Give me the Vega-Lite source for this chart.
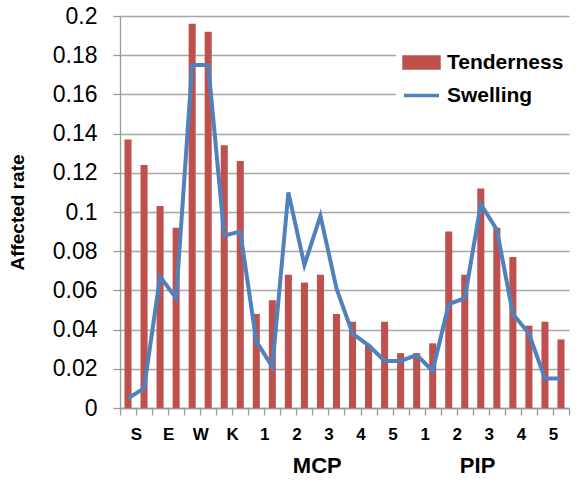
{
  "$schema": "https://vega.github.io/schema/vega-lite/v6.json",
  "width": 449,
  "height": 392,
  "autosize": {"type": "none"},
  "padding": {"left": 120, "top": 16, "right": 7, "bottom": 72},
  "background": "white",
  "config": {
    "view": {"stroke": null},
    "font": "Liberation Sans"
  },
  "data": {
    "values": [
      {"idx": 1, "Tenderness": 0.137, "Swelling": 0.005},
      {"idx": 2, "Tenderness": 0.124, "Swelling": 0.010},
      {"idx": 3, "Tenderness": 0.103, "Swelling": 0.067},
      {"idx": 4, "Tenderness": 0.092, "Swelling": 0.056},
      {"idx": 5, "Tenderness": 0.196, "Swelling": 0.175},
      {"idx": 6, "Tenderness": 0.192, "Swelling": 0.175},
      {"idx": 7, "Tenderness": 0.134, "Swelling": 0.088},
      {"idx": 8, "Tenderness": 0.126, "Swelling": 0.090},
      {"idx": 9, "Tenderness": 0.048, "Swelling": 0.034},
      {"idx": 10, "Tenderness": 0.055, "Swelling": 0.021},
      {"idx": 11, "Tenderness": 0.068, "Swelling": 0.110},
      {"idx": 12, "Tenderness": 0.064, "Swelling": 0.073},
      {"idx": 13, "Tenderness": 0.068, "Swelling": 0.098},
      {"idx": 14, "Tenderness": 0.048, "Swelling": 0.061},
      {"idx": 15, "Tenderness": 0.044, "Swelling": 0.038},
      {"idx": 16, "Tenderness": 0.032, "Swelling": 0.032},
      {"idx": 17, "Tenderness": 0.044, "Swelling": 0.024},
      {"idx": 18, "Tenderness": 0.028, "Swelling": 0.024},
      {"idx": 19, "Tenderness": 0.028, "Swelling": 0.027},
      {"idx": 20, "Tenderness": 0.033, "Swelling": 0.019},
      {"idx": 21, "Tenderness": 0.090, "Swelling": 0.053},
      {"idx": 22, "Tenderness": 0.068, "Swelling": 0.056},
      {"idx": 23, "Tenderness": 0.112, "Swelling": 0.104},
      {"idx": 24, "Tenderness": 0.092, "Swelling": 0.091},
      {"idx": 25, "Tenderness": 0.077, "Swelling": 0.048},
      {"idx": 26, "Tenderness": 0.042, "Swelling": 0.038},
      {"idx": 27, "Tenderness": 0.044, "Swelling": 0.015},
      {"idx": 28, "Tenderness": 0.035, "Swelling": 0.015}
    ]
  },
  "encoding": {
    "x": {
      "field": "idx",
      "type": "ordinal",
      "scale": {"type": "band", "paddingInner": 0, "paddingOuter": 0},
      "axis": {
        "title": null,
        "grid": false,
        "labelAngle": 0,
        "labelFont": "Liberation Sans",
        "labelFontSize": 17,
        "labelFontWeight": "bold",
        "labelColor": "black",
        "labelPadding": 11,
        "labelOffset": 8,
        "labelBaseline": "top",
        "labelOverlap": false,
        "tickBand": "extent",
        "tickSize": 7,
        "tickColor": "#999999",
        "tickWidth": 1.3,
        "domainColor": "#999999",
        "domainWidth": 1.3,
        "labelExpr": "['S','','E','','W','','K','','1','','2','','3','','4','','5','','1','','2','','3','','4','','5',''][datum.value - 1]"
      }
    }
  },
  "layer": [
    {
      "mark": {"type": "bar", "width": {"band": 0.44}},
      "encoding": {
        "y": {
          "field": "Tenderness",
          "type": "quantitative",
          "scale": {"domain": [0, 0.2], "nice": false, "zero": true},
          "axis": {
            "title": "Affected rate",
            "titleFont": "Liberation Sans",
            "titleFontSize": 19,
            "titleFontWeight": "bold",
            "titleColor": "black",
            "titlePadding": 25,
            "values": [0, 0.02, 0.04, 0.06, 0.08, 0.1, 0.12, 0.14, 0.16, 0.18, 0.2],
            "format": "~g",
            "labelOverlap": false,
            "labelFont": "Liberation Sans",
            "labelFontSize": 23,
            "labelColor": "black",
            "labelPadding": 16,
            "tickSize": 7,
            "tickColor": "#999999",
            "tickWidth": 1.3,
            "domainColor": "#999999",
            "domainWidth": 1.3,
            "grid": true,
            "gridColor": "#A6A6A6",
            "gridWidth": 1.3
          }
        },
        "color": {
          "datum": "Tenderness",
          "scale": {"domain": ["Tenderness", "Swelling"], "range": ["#C0504D", "#4F81BD"]},
          "legend": {
            "orient": "none",
            "legendX": 276,
            "legendY": 21,
            "padding": 6,
            "fillColor": "white",
            "title": null,
            "labelFont": "Liberation Sans",
            "labelFontSize": 21,
            "labelFontWeight": "bold",
            "labelColor": "black",
            "labelOffset": 6,
            "symbolSize": 1225,
            "rowPadding": 1,
            "encode": {
              "symbols": {
                "update": {
                  "shape": {"signal": "datum.value == 'Tenderness' ? 'M-1,-0.31H1V0.31H-1Z' : 'M-1,0H1'"},
                  "fill": {"signal": "datum.value == 'Tenderness' ? '#C0504D' : 'transparent'"},
                  "stroke": {"signal": "datum.value == 'Tenderness' ? 'transparent' : '#4F81BD'"},
                  "strokeWidth": {"value": 3.5},
                  "opacity": {"value": 1}
                }
              }
            }
          }
        }
      }
    },
    {
      "mark": {"type": "line", "strokeWidth": 4},
      "encoding": {
        "y": {
          "field": "Swelling",
          "type": "quantitative",
          "axis": {
            "title": "Affected rate",
            "titleFont": "Liberation Sans",
            "titleFontSize": 19,
            "titleFontWeight": "bold",
            "titleColor": "black",
            "titlePadding": 25,
            "values": [0, 0.02, 0.04, 0.06, 0.08, 0.1, 0.12, 0.14, 0.16, 0.18, 0.2],
            "format": "~g",
            "labelOverlap": false,
            "labelFont": "Liberation Sans",
            "labelFontSize": 23,
            "labelColor": "black",
            "labelPadding": 16,
            "tickSize": 7,
            "tickColor": "#999999",
            "tickWidth": 1.3,
            "domainColor": "#999999",
            "domainWidth": 1.3,
            "grid": true,
            "gridColor": "#A6A6A6",
            "gridWidth": 1.3
          }
        },
        "color": {"datum": "Swelling"}
      }
    },
    {
      "data": {"values": [{"idx": 13, "group": "MCP"}, {"idx": 23, "group": "PIP"}]},
      "mark": {"type": "text", "font": "Liberation Sans", "fontSize": 22, "fontWeight": "bold", "color": "black", "baseline": "middle", "align": "center"},
      "encoding": {
        "x": {"field": "idx", "type": "ordinal", "bandPosition": 0.3},
        "y": {
          "datum": -0.0296,
          "type": "quantitative",
          "axis": {
            "title": "Affected rate",
            "titleFont": "Liberation Sans",
            "titleFontSize": 19,
            "titleFontWeight": "bold",
            "titleColor": "black",
            "titlePadding": 25,
            "values": [0, 0.02, 0.04, 0.06, 0.08, 0.1, 0.12, 0.14, 0.16, 0.18, 0.2],
            "format": "~g",
            "labelOverlap": false,
            "labelFont": "Liberation Sans",
            "labelFontSize": 23,
            "labelColor": "black",
            "labelPadding": 16,
            "tickSize": 7,
            "tickColor": "#999999",
            "tickWidth": 1.3,
            "domainColor": "#999999",
            "domainWidth": 1.3,
            "grid": true,
            "gridColor": "#A6A6A6",
            "gridWidth": 1.3
          }
        },
        "text": {"field": "group"}
      }
    }
  ]
}
